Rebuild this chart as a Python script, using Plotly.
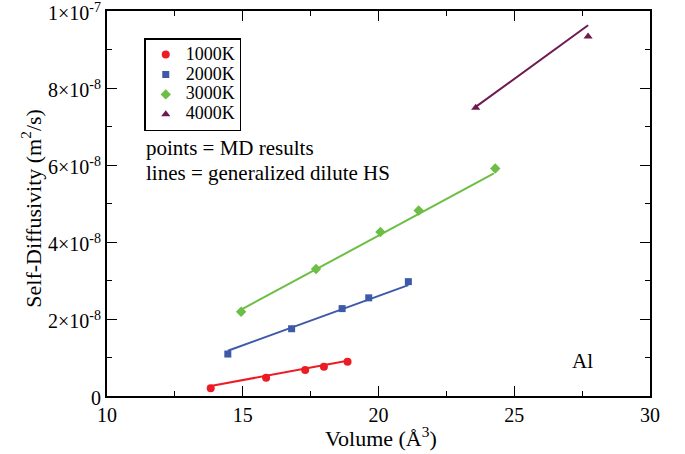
import plotly.graph_objects as go

# Self-diffusivity of liquid Al vs. atomic volume
# D values are in units of 1e-9 m^2/s, volumes in cubic angstroms

t1000_vol = [13.82, 15.86, 17.30, 17.99, 18.86]
t1000_D = [2.0, 4.75, 6.75, 7.6, 8.9]
t1000_fit_vol = [13.82, 18.86]
t1000_fit_D = [2.6, 9.16]

t2000_vol = [14.45, 16.80, 18.66, 19.64, 21.10]
t2000_D = [10.9, 17.47, 22.7, 25.5, 29.7]
t2000_fit_vol = [14.45, 21.10]
t2000_fit_D = [11.76, 28.8]

t3000_vol = [14.94, 17.70, 20.07, 21.48, 24.30]
t3000_D = [21.9, 33.0, 42.6, 48.2, 59.1]
t3000_fit_vol = [14.96, 24.25]
t3000_fit_D = [22.5, 57.8]

t4000_vol = [23.58, 27.72]
t4000_D = [74.9, 93.4]
t4000_fit_vol = [23.58, 27.72]
t4000_fit_D = [75.1, 96.3]

series_names = ["1000K", "2000K", "3000K", "4000K"]
colors = ["#ED1C24", "#3D5AA8", "#6CBE45", "#6E1A51"]
symbols = ["circle", "square", "diamond", "triangle-up"]
marker_sizes = [8, 7, 8, 8]

x_tickvals = [10, 15, 20, 25, 30]
y_tickvals = [0, 20, 40, 60, 80, 100]
y_ticktext = ["0", "2×10<sup>-8</sup>", "4×10<sup>-8</sup>", "6×10<sup>-8</sup>",
              "8×10<sup>-8</sup>", "1×10<sup>-7</sup>"]

x_title = "Volume (Å<sup>3</sup>)"
y_title = "Self-Diffusivity (m<sup>2</sup>/s)"

points = [(t1000_vol, t1000_D), (t2000_vol, t2000_D), (t3000_vol, t3000_D), (t4000_vol, t4000_D)]
fits = [(t1000_fit_vol, t1000_fit_D), (t2000_fit_vol, t2000_fit_D),
        (t3000_fit_vol, t3000_fit_D), (t4000_fit_vol, t4000_fit_D)]

FONT = "Liberation Serif"

fig = go.Figure()

# fitted lines (generalized dilute hard-sphere model)
for (vx, vy), c in zip(fits, colors):
    fig.add_trace(go.Scatter(
        x=vx, y=vy, mode="lines",
        line=dict(color=c, width=2), showlegend=False, hoverinfo="skip"))

# MD simulation points
for (vx, vy), name, c, s, ms in zip(points, series_names, colors, symbols, marker_sizes):
    fig.add_trace(go.Scatter(
        x=vx, y=vy, mode="markers",
        name=f'<span style="font-size:18px">{name}</span>',
        marker=dict(color=c, symbol=s, size=ms, line=dict(width=0))))

axis_common = dict(
    showgrid=False, zeroline=False, showline=True, linecolor="black", linewidth=2,
    mirror="allticks", ticks="inside", ticklen=10, tickwidth=1.3, tickcolor="black",
    tickfont=dict(family=FONT, size=20, color="black"), ticklabeloverflow="allow",
    automargin=False,
)

fig.update_xaxes(
    range=[10, 30], tickvals=x_tickvals,
    minor=dict(dtick=2.5, tick0=10, ticks="inside", ticklen=5, tickwidth=1.3, tickcolor="black"),
    **axis_common)

fig.update_yaxes(
    range=[0, 100], tickvals=y_tickvals, ticktext=y_ticktext, ticklabelshift=2,
    minor=dict(dtick=10, tick0=0, ticks="inside", ticklen=5, tickwidth=1.3, tickcolor="black"),
    **axis_common)

# axis titles
fig.add_annotation(xref="paper", yref="paper", x=0.504, y=-0.106, xanchor="center", yanchor="middle",
                   text=x_title, showarrow=False, font=dict(family=FONT, size=22, color="black"))
fig.add_annotation(xref="paper", yref="paper", x=-0.139, y=0.488, xanchor="center", yanchor="middle",
                   text=y_title, textangle=-90, showarrow=False,
                   font=dict(family=FONT, size=22, color="black"))

# in-plot notes
fig.add_annotation(xref="paper", yref="paper", x=0.0677, y=0.643, xanchor="left", yanchor="middle",
                   text="points = MD results", showarrow=False,
                   font=dict(family=FONT, size=21, color="black"))
fig.add_annotation(xref="paper", yref="paper", x=0.0677, y=0.578, xanchor="left", yanchor="middle",
                   text="lines = generalized dilute HS", showarrow=False,
                   font=dict(family=FONT, size=21, color="black"))
fig.add_annotation(x=27.53, y=9.2, xanchor="center", yanchor="middle",
                   text="Al", showarrow=False,
                   font=dict(family=FONT, size=21, color="black"))

fig.update_layout(
    width=685, height=454,
    margin=dict(l=106.5, r=34.5, t=10.5, b=58),
    paper_bgcolor="white", plot_bgcolor="white",
    legend=dict(x=0.069, y=0.929, xanchor="left", yanchor="top",
                bgcolor="white", bordercolor="black", borderwidth=1.3,
                font=dict(family=FONT, size=13, color="black"),
                itemsizing="trace", tracegroupgap=0),
    showlegend=True,
)

fig.write_html("out.html")
